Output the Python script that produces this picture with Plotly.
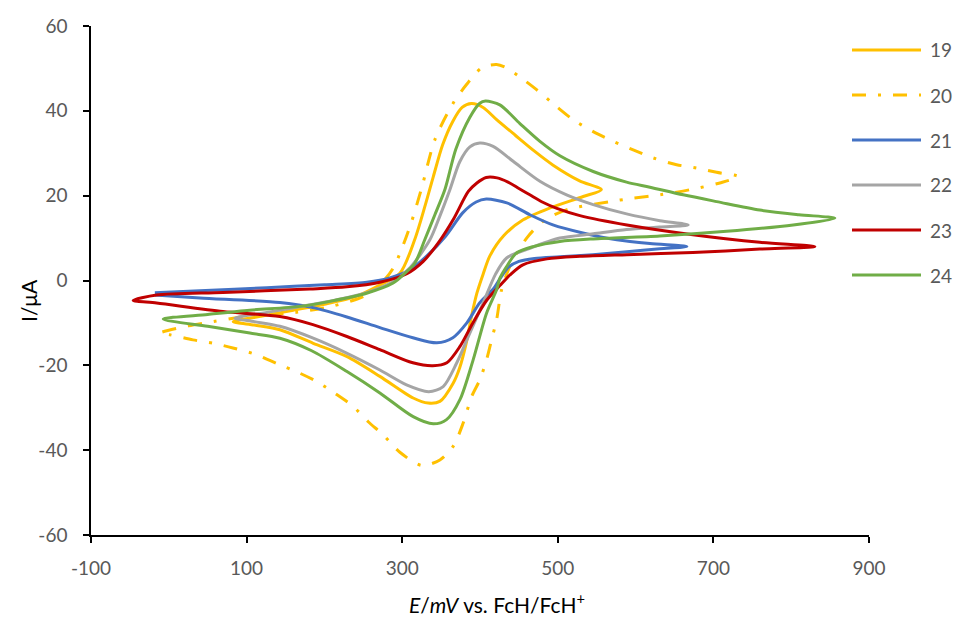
import plotly.graph_objects as go

# ---- data (E in mV vs FcH/FcH+, I in microamps) ----
series_names = ["19", "20", "21", "22", "23", "24"]

e19 = [82.8, 120, 160, 200, 240, 270, 297, 316, 330, 340, 352, 365, 377, 389, 404, 421, 445, 470, 494, 528, 556,
       532.6, 489.8, 455.5, 430.7, 412.7, 404, 396, 389, 382, 374, 365.5, 348.4, 333.4, 314.1, 271.3, 228.5, 185.6,
       142.8, 110, 82.8]
i19 = [-9.7, -8.4, -7.0, -5.6, -3.8, -1.2, 1.7, 9.6, 18.0, 24.5, 32.0, 37.5, 40.8, 41.7, 40.8, 38.0, 34.3, 30.5, 27.2,
       23.5, 21.4,
       19.8, 17.1, 14.3, 10.6, 5.8, 1.5, -3.0, -8.5, -15.0, -20.5, -24.2, -28.5, -28.9, -27.7, -22.6, -17.9, -14.8,
       -11.6, -10.5, -9.7]

e20 = [-11.5, 25, 57, 104.2, 164.2, 211.3, 249.8, 271.3, 288.4, 309.9, 325, 342, 365.5, 382.7, 402.0, 421.3, 434.2, 453.4,
       472.7, 498.4, 519.8, 545.5, 571.2, 596.9, 622.6, 652.7, 678.4, 704.1, 731.8,
       708.3, 669.8, 631.2, 596.9, 566.9, 512, 482, 460, 440, 428, 421.3, 414.9, 408.4, 399.8, 389.2, 378.4, 365.5, 348.4,
       325, 297, 275.6, 256.3, 237, 213.5, 189.9, 164.2, 142.8, 112.8, 82.4, 57, 31, 1.4, -11.5]
i20 = [-12.4, -10.7, -9.7, -8.3, -7.5, -6.0, -3.8, -1.0, 2.9, 12.7, 21.8, 33.2, 41.8, 46.2, 50.1, 50.9, 50.1, 47.7,
       45.0, 41.0, 37.9, 35.1, 32.8, 30.8, 28.9, 27.3, 26.5, 25.5, 24.5,
       23.0, 21.4, 20.2, 19.4, 18.6, 16.7, 14.1, 10.0, 4.0, -2.0, -9.3, -14.0, -18.7, -23.4, -27.4, -33.6, -39.1, -42.3,
       -43.6, -40.5, -36.4, -33.3, -29.7, -26.6, -23.8, -21.5, -19.9, -17.5, -15.9, -14.8, -14.0, -12.8, -12.4]

e21 = [-17.9, 40, 126, 200, 254.6, 284.2, 310, 330, 356, 378, 395, 408, 434.5, 464.1, 493.7, 532.2, 575.9, 618.4, 665.9,
       631.2, 588.8, 545.1, 502.7, 470, 450, 437, 427, 417, 399.8, 383.1, 365.1, 344.6, 313.7, 271.3, 228.9,
       185.2, 142.8, 40, -17.9]
i21 = [-2.9, -2.4, -1.7, -1.0, -0.4, 0.6, 2.5, 5.5, 10.5, 16.0, 18.5, 19.2, 18.3, 15.5, 13.1, 11.2, 9.6, 8.7, 8.0,
       7.5, 6.8, 6.1, 5.6, 5.2, 4.5, 3.2, 0.8, -2.0, -5.2, -10.0, -13.5, -14.7, -13.5, -11.1, -8.6,
       -6.4, -5.2, -4.1, -3.4]

e22 = [85, 130, 180, 230, 260, 288, 310, 335.6, 348, 361.3, 374, 387, 399.8, 416.9, 442.6, 477, 511.3, 545.5, 588.4,
       631.2, 667.6,
       631.2, 588.4, 545.5, 502.7, 464.1, 434.2, 420, 404, 386.9, 369.9, 352.7, 334.2, 305.6, 271.3, 228.5, 185.6,
       142.8, 110, 85]
i22 = [-8.9, -7.4, -5.8, -4.0, -2.5, -0.3, 3.0, 9.6, 15.0, 21.4, 28.0, 31.5, 32.4, 31.6, 28.1, 23.4, 20.2, 17.9, 15.7,
       14.1, 13.1,
       12.6, 12.0, 11.0, 10.0, 7.6, 5.3, 1.5, -5.3, -12.4, -19.5, -25.0, -26.2, -24.6, -21.1, -17.1, -13.6,
       -10.8, -9.7, -8.9]

e23 = [-45.8, -15.7, 69.5, 181.3, 228.9, 271.3, 306, 327, 348, 366, 385, 396, 408, 422, 436, 450, 464, 480, 498.8,
       528.4, 588.8, 673.6, 759.7, 830.4,
       759.7, 673.6, 588.8, 528.4, 486, 455.1, 438.4, 425.5, 408.8, 390.8, 374.1, 357.4, 339.4, 313.7, 271.3, 228.9,
       185.2, 142.8, 69.5, -15.7, -45.8]
i23 = [-4.7, -3.4, -2.8, -2.0, -1.5, -0.4, 1.6, 4.5, 9.3, 14.5, 21.0, 23.0, 24.3, 24.2, 23.2, 21.7, 20.2, 18.5, 17.0,
       15.3, 13.1, 10.8, 9.0, 8.0,
       7.4, 6.6, 6.1, 5.7, 5.1, 3.7, 1.3, -1.2, -4.6, -10.0, -15.6, -19.4, -20.1, -19.4, -16.3, -13.2,
       -10.4, -8.5, -7.3, -5.3, -4.7]

e24 = [-7.2, 50, 104, 168.5, 210, 254.2, 288.4, 303.4, 316, 329, 342, 355, 369, 387, 399.8, 407, 425.5, 451.3, 477,
       502.7, 545.5, 588.4, 618.4, 661.2, 704.1, 759.7, 810, 856.1,
       802.5, 716.9, 631.2, 545.5, 502.7, 468.4, 447, 434.2, 425.5, 421.3, 408.4, 391.2, 374.2, 357, 339.9, 314.1,
       271.3, 228.5, 183, 142.8, 104.2, 50, -7.2]
i24 = [-9.1, -8.0, -7.0, -6.1, -4.8, -3.0, -0.6, 1.7, 4.0, 9.6, 15.5, 21.5, 31.0, 38.5, 41.8, 42.3, 41.4, 37.0, 32.8,
       29.4, 25.7, 23.2, 22.0, 20.2, 18.6, 16.6, 15.5, 14.7,
       13.1, 11.6, 10.5, 9.8, 9.2, 8.0, 6.5, 3.3, 0.5, -2.2, -7.7, -18.7, -28.1, -32.8, -33.8, -32.1,
       -26.5, -21.4, -16.5, -13.6, -12.4, -10.8, -9.1]

x_ticks = [-100, 100, 300, 500, 700, 900]
y_ticks = [-60, -40, -20, 0, 20, 40, 60]

# ---- styling ----
colors = ["#FFC000", "#FFC000", "#4472C4", "#A5A5A5", "#C00000", "#70AD47"]
dashes = ["solid", "14px,12px,3px,12px", "solid", "solid", "solid", "solid"]
xs = [e19, e20, e21, e22, e23, e24]
ys = [i19, i20, i21, i22, i23, i24]

FONT = "Lato, 'Open Sans', sans-serif"
TICK_COLOR = "#595959"

fig = go.Figure()
for name, x, y, c, d in zip(series_names, xs, ys, colors, dashes):
    fig.add_trace(go.Scatter(
        x=x, y=y, name=name, mode="lines",
        line=dict(color=c, width=3, dash=d, shape="spline", smoothing=0.8),
        showlegend=False, hoverinfo="skip",
    ))

W, H = 956, 617
ML, MR, MT, MB = 91, 87, 26, 82
pw = W - ML - MR
ph = H - MT - MB

def px_to_paper_x(px):
    return (px - ML) / pw

def px_to_paper_y(py):
    return (H - MB - py) / ph

# manual legend (Excel style: long line samples, labels to the right)
shapes = []
annotations = []
for k, (name, c, d) in enumerate(zip(series_names, colors, dashes)):
    py = 50 + 45 * k
    shapes.append(dict(type="line", xref="paper", yref="paper",
                       x0=px_to_paper_x(852), x1=px_to_paper_x(921),
                       y0=px_to_paper_y(py), y1=px_to_paper_y(py),
                       line=dict(color=c, width=3, dash=d)))
    annotations.append(dict(text=name, xref="paper", yref="paper",
                            x=px_to_paper_x(928), y=px_to_paper_y(py),
                            xanchor="left", yanchor="middle", showarrow=False,
                            font=dict(family=FONT, size=19, color=TICK_COLOR)))

annotations.append(dict(text="<i>E</i>/<i>mV</i> vs. FcH/FcH<sup>+</sup>", xref="paper", yref="paper",
                        x=px_to_paper_x(497), y=px_to_paper_y(603),
                        xanchor="center", yanchor="middle", showarrow=False,
                        font=dict(family=FONT, size=21, color="#000000")))
annotations.append(dict(text="I/μA", xref="paper", yref="paper",
                        x=px_to_paper_x(28), y=px_to_paper_y(301), textangle=-90,
                        xanchor="center", yanchor="middle", showarrow=False,
                        font=dict(family=FONT, size=21, color="#000000")))

def axis_style(standoff):
    return dict(showgrid=False, zeroline=False, showline=True, linecolor="#000000", linewidth=1.5,
                ticks="outside", ticklen=6, tickwidth=1.5, tickcolor="#000000",
                tickfont=dict(family=FONT, size=19, color=TICK_COLOR), ticklabelstandoff=standoff)

fig.update_layout(
    width=W, height=H,
    margin=dict(l=ML, r=MR, t=MT, b=MB, pad=0),
    plot_bgcolor="white", paper_bgcolor="white",
    xaxis=dict(range=[-100, 900], tickvals=x_ticks, ticktext=[str(v) for v in x_ticks], **axis_style(9)),
    yaxis=dict(range=[-60, 60], tickvals=y_ticks, ticktext=[str(v) for v in y_ticks], **axis_style(12)),
    shapes=shapes, annotations=annotations, showlegend=False,
)

fig.write_html("out.html", config={"displayModeBar": False},
               post_script="document.body.style.margin='0';document.body.style.overflow='hidden';")
